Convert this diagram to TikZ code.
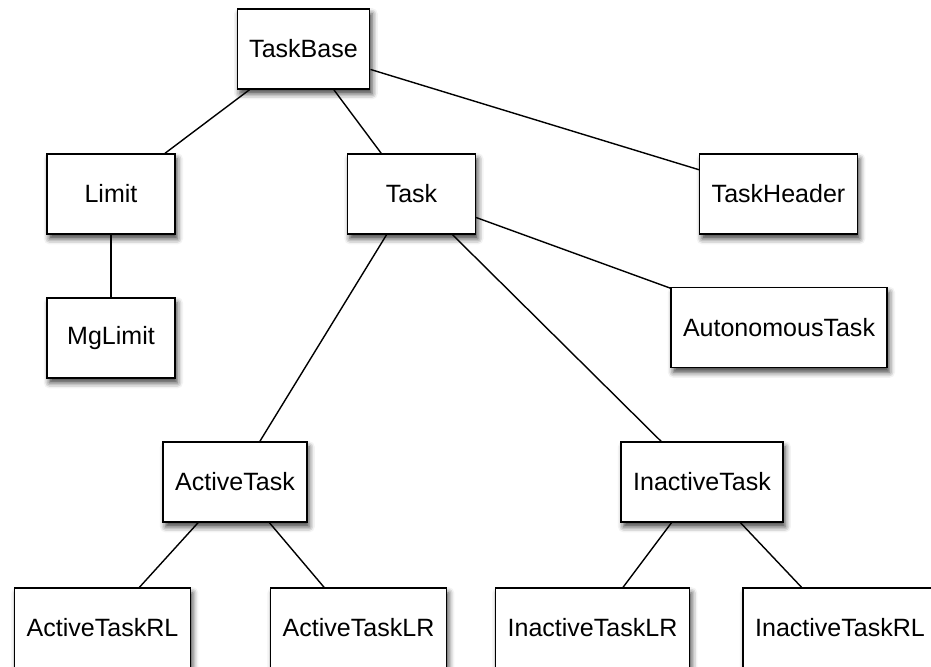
\documentclass[tikz,border=0pt]{standalone}
\usepackage{fontspec}
\setmainfont{Liberation Sans}
\usetikzlibrary{shadows.blur}

\tikzset{
  cls/.style={draw, fill=white, line width=1pt, minimum width=3.2cm,
    minimum height=2cm, inner xsep=0.3cm,
    font=\fontsize{17.8pt}{20pt}\selectfont,
    blur shadow={shadow xshift=0.06cm, shadow yshift=-0.12cm,
      shadow blur radius=0.14cm, shadow opacity=75}},
  link/.style={line width=1pt}
}

\begin{document}
\begin{tikzpicture}[x=0.025cm, y=-0.025cm]
  \useasboundingbox (0,0) rectangle (931,666);

  % Class boxes
  \node[cls] (taskbase)   at (303.5,49)  {TaskBase};
  \node[cls] (limit)      at (111,194)   {Limit};
  \node[cls] (task)       at (411.5,194) {Task};
  \node[cls] (header)     at (778.5,194) {TaskHeader};
  \node[cls] (mglimit)    at (111,338)   {MgLimit};
  \node[cls] (autonomous) at (779,327.5) {AutonomousTask};
  \node[cls] (active)     at (235,482)   {ActiveTask};
  \node[cls] (inactive)   at (702,482)   {InactiveTask};
  \node[cls] (activerl)   at (102.5,628) {ActiveTaskRL};
  \node[cls] (activelr)   at (358.5,628) {ActiveTaskLR};
  \node[cls] (inactivelr) at (592.5,628) {InactiveTaskLR};
  \node[cls] (inactiverl) at (840,628)   {InactiveTaskRL};

  % Links - parent/child
  \foreach \a/\b in {taskbase/limit, taskbase/task, taskbase/header,
      limit/mglimit, task/autonomous, task/active, task/inactive,
      active/activerl, active/activelr,
      inactive/inactivelr, inactive/inactiverl} {
      \draw[link] (\a) -- (\b);
    }
\end{tikzpicture}
\end{document}
